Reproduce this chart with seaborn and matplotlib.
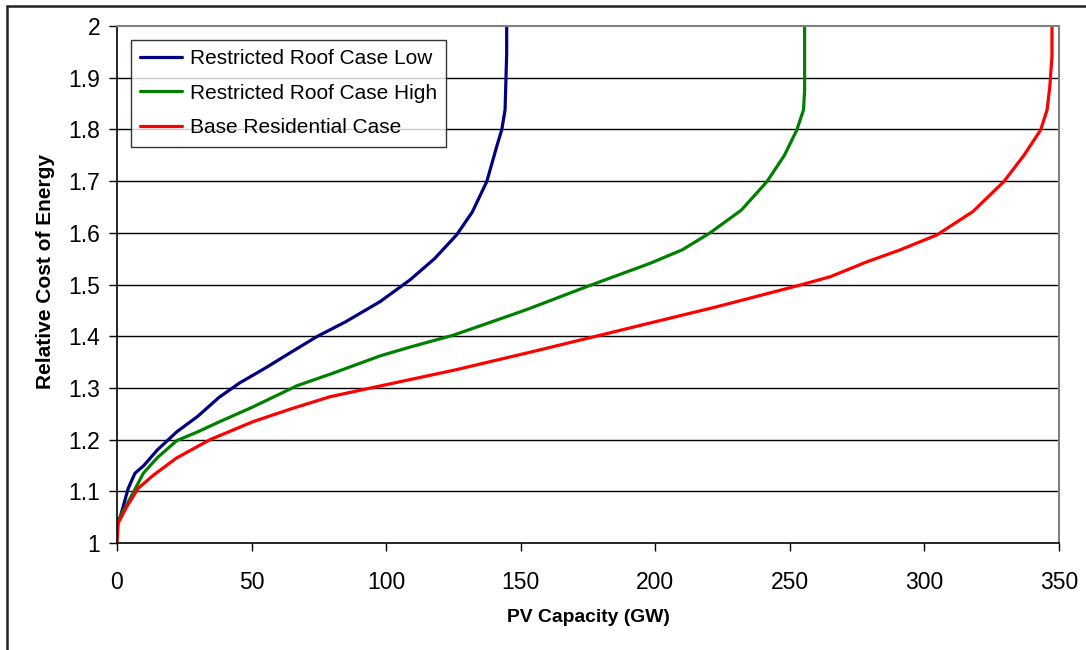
import numpy as np
import pandas as pd
import seaborn as sns
import matplotlib.pyplot as plt
from matplotlib.patches import Rectangle
from matplotlib.ticker import FuncFormatter

# ---- Data ----
low_x = [0, 1.1, 4.2, 6.7, 10, 15, 22.2, 30, 38, 45.7, 55, 65, 74.2, 85, 97.8,
         108.9, 118, 126.2, 132, 137.4, 141.1, 143, 144.2, 144.8, 144.8]
low_y = [1.04, 1.048, 1.106, 1.135, 1.15, 1.18, 1.215, 1.245, 1.282, 1.31, 1.338, 1.37,
         1.399, 1.428, 1.467, 1.509, 1.55, 1.596, 1.64, 1.699, 1.767, 1.8, 1.838, 1.947, 2.0]

high_x = [0, 1.1, 6, 9.8, 15, 22.2, 30, 38.3, 50, 66.8, 80, 97.8, 108.9, 125, 149.8,
          153.5, 174.6, 198.1, 210, 220.4, 232, 241.5, 248, 252.6, 255.1, 255.5, 255.5]
high_y = [1.04, 1.05, 1.097, 1.135, 1.165, 1.198, 1.215, 1.235, 1.262, 1.304, 1.328, 1.362,
          1.379, 1.402, 1.447, 1.454, 1.496, 1.541, 1.567, 1.6, 1.644, 1.699, 1.75, 1.799,
          1.838, 1.876, 2.0]

base_x = [0, 0.5, 3.6, 7.9, 13.5, 22, 34.6, 50.7, 65, 79.2, 105.2, 125, 153.5, 179.6,
          200, 222.9, 253.9, 265, 278.7, 291, 304.7, 318, 329.5, 337, 343.2, 345.6,
          346.6, 347.4, 347.4]
base_y = [1.0, 1.039, 1.07, 1.106, 1.131, 1.164, 1.2, 1.235, 1.26, 1.283, 1.312, 1.334,
          1.369, 1.402, 1.428, 1.457, 1.499, 1.515, 1.544, 1.567, 1.596, 1.641, 1.699,
          1.75, 1.799, 1.838, 1.883, 1.941, 2.0]

series_names = ['Restricted Roof Case Low', 'Restricted Roof Case High', 'Base Residential Case']
series_colors = ['#000080', '#008000', '#FF0000']
x_ticks = [0, 50, 100, 150, 200, 250, 300, 350]
y_ticks = [1, 1.1, 1.2, 1.3, 1.4, 1.5, 1.6, 1.7, 1.8, 1.9, 2]

# ---- Style ----
sns.set_style('white')
plt.rcParams['font.family'] = ['Liberation Sans', 'DejaVu Sans']
plt.rcParams['text.color'] = 'black'
plt.rcParams['axes.labelcolor'] = 'black'
plt.rcParams['xtick.color'] = 'black'
plt.rcParams['ytick.color'] = 'black'

fig = plt.figure(figsize=(10.86, 6.5), dpi=100)
ax = fig.add_axes([0.1077, 0.1646, 0.8674, 0.7954])

# Plot specs
for name, xs, ys, col in zip(series_names, [low_x, high_x, base_x],
                             [low_y, high_y, base_y], series_colors):
    df = pd.DataFrame({'x': xs, 'y': ys})
    sns.lineplot(data=df, x='x', y='y', estimator=None, sort=False, color=col,
                 linewidth=2.3, label=name, ax=ax)

ax.set_xlim(0, 350)
ax.set_ylim(1, 2)
ax.set_xticks(x_ticks)
ax.set_yticks(y_ticks)
ax.yaxis.set_major_formatter(FuncFormatter(lambda v, p: f'{v:g}'))
for yv in y_ticks[1:-1]:
    ax.axhline(yv, color='black', linewidth=1.0, zorder=0)

# Annotations and styling
ax.set_xlabel('PV Capacity (GW)', fontsize=13.9, fontweight='bold')
ax.set_ylabel('Relative Cost of Energy', fontsize=15, fontweight='bold')
ax.xaxis.set_label_coords(0.5, -0.128)
ax.yaxis.set_label_coords(-0.066, 0.526)
ax.tick_params(axis='x', direction='out', length=6, width=1, color='black',
               labelsize=16.5, pad=14, bottom=True)
ax.tick_params(axis='y', direction='out', length=6, width=1, color='black',
               labelsize=16.5, pad=6, left=True)
for side in ['left', 'bottom']:
    ax.spines[side].set_color('black')
    ax.spines[side].set_linewidth(1.2)
for side in ['top', 'right']:
    ax.spines[side].set_color('#808080')
    ax.spines[side].set_linewidth(1.5)

leg = ax.legend(loc='upper left', bbox_to_anchor=(0.0, 1.0), fontsize=15,
                frameon=True, fancybox=False, shadow=False, handlelength=2.0,
                labelspacing=0.75, borderpad=0.45, handletextpad=0.4,
                borderaxespad=0.65)
leg.get_frame().set_edgecolor('black')
leg.get_frame().set_linewidth(1.0)
for line in leg.get_lines():
    line.set_linewidth(2.3)

# outer chart frame (only left/top visible in the picture)
fig.add_artist(Rectangle((7 / 1086, -0.1), 1.2, 1.1 - 6 / 650, transform=fig.transFigure,
                         fill=False, edgecolor='#222222', linewidth=1.8))

fig.savefig('out.png', dpi=100)
